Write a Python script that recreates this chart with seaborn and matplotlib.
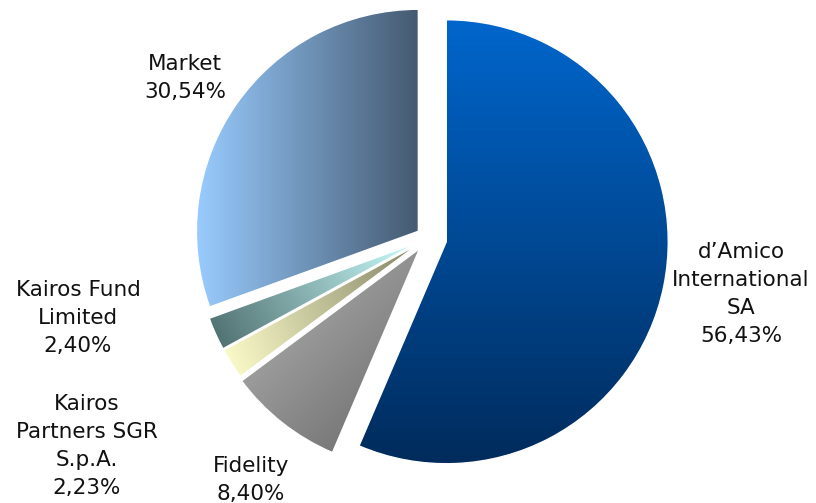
import numpy as np
import matplotlib
matplotlib.use("Agg")
import matplotlib.pyplot as plt
import matplotlib.colors as mcolors
import seaborn as sns

# ---- data ----
labels = ["d\u2019Amico\nInternational\nSA", "Fidelity", "Kairos\nPartners SGR\nS.p.A.",
          "Kairos Fund\nLimited", "Market"]
values = [56.43, 8.40, 2.23, 2.40, 30.54]
value_texts = ["56,43%", "8,40%", "2,23%", "2,40%", "30,54%"]

# ---- style ----
explode = [0.084, 0.06, 0.05, 0.05, 0.053]  # fraction of radius
grad = [  # (start colour, end colour, direction angle in degrees: start -> end)
    ("#0066CC", "#002B5C", -90),
    ("#B8B8B8", "#666666", -45),
    ("#FFFFCC", "#838366", 20),
    ("#4C6B6B", "#CCFFFF", 30),
    ("#99CCFF", "#455A71", 0),
]
label_pos = [(741, 294), (251, 480), (87, 446), (78, 318), (185, 78)]  # pixel coords (x, y from top)

sns.set_theme(style="white")
plt.rcParams["font.family"] = ["DejaVu Sans"]

W, H = 816, 503
fig = plt.figure(figsize=(W / 100, H / 100), dpi=100)
ax = fig.add_axes([0, 0, 1, 1])

cx, cy, R = 428, H - 238, 222
wedges, _ = ax.pie(values, explode=[e * R for e in explode], startangle=90,
                   counterclock=False, radius=R, center=(cx, cy), frame=True,
                   wedgeprops=dict(linewidth=1.0, edgecolor="white"))

for w, (c1, c2, ang) in zip(wedges, grad):
    ext = w.get_path().get_extents()
    x0, y0, x1, y1 = ext.x0, ext.y0, ext.x1, ext.y1
    n = 300
    xs = np.linspace(x0, x1, n)
    ys = np.linspace(y1, y0, n)  # top row first
    X, Y = np.meshgrid(xs, ys)
    d = np.array([np.cos(np.radians(ang)), np.sin(np.radians(ang))])
    P = X * d[0] + Y * d[1]
    t = (P - P.min()) / (P.max() - P.min())
    a = np.array(mcolors.to_rgb(c1))
    b = np.array(mcolors.to_rgb(c2))
    img = a[None, None, :] * (1 - t[..., None]) + b[None, None, :] * t[..., None]
    im = ax.imshow(img, extent=[x0, x1, y0, y1], origin="upper", zorder=1,
                   interpolation="bilinear", aspect="auto")
    im.set_clip_path(w)
    w.set_facecolor("none")
    w.set_zorder(2)

for lab, vt, (lx, ly) in zip(labels, value_texts, label_pos):
    ax.text(lx, H - ly, lab + "\n" + vt, ha="center", va="center",
            fontsize=15.5, color="#111111", linespacing=1.52, zorder=3)

ax.set_xlim(0, W)
ax.set_ylim(0, H)
ax.set_aspect("auto")
ax.axis("off")

fig.savefig("out.png", dpi=100, facecolor="white")
